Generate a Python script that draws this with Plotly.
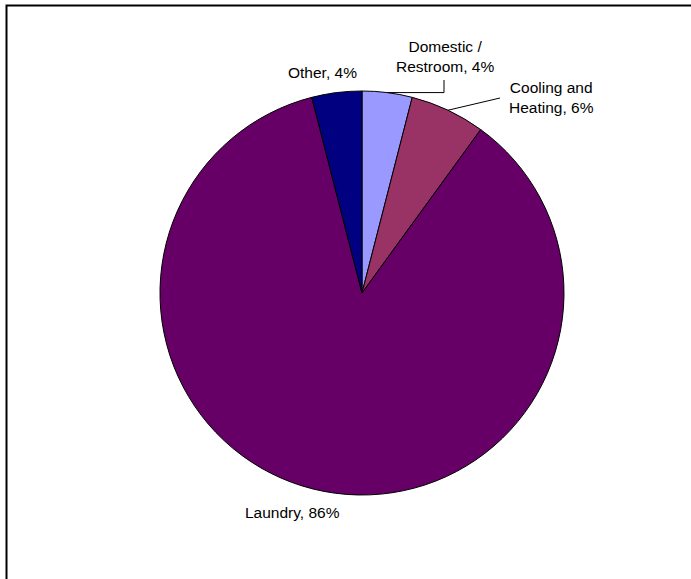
import math
import plotly.graph_objects as go

# Water use by end use
categories = ["Domestic /<br>Restroom", "Cooling and<br>Heating", "Laundry", "Other"]
shares = [4, 6, 86, 4]
colors = ["#9999FF", "#993366", "#660066", "#000080"]

W, H = 691, 579
CX, CY, R = 362, 293, 202  # pie centre and radius in pixels


def px(x):
    return x / W


def py(y):
    return 1 - y / H


fig = go.Figure(
    go.Pie(
        labels=categories,
        values=shares,
        sort=False,
        direction="clockwise",
        rotation=0,
        marker=dict(colors=colors, line=dict(color="black", width=1)),
        textinfo="none",
        hoverinfo="label+percent",
        domain=dict(x=[px(CX - R), px(CX + R)], y=[py(CY + R), py(CY - R)]),
        showlegend=False,
    )
)


def mid_point(i):
    total = sum(shares)
    start = sum(shares[:i]) / total * 360
    ang = math.radians(start + shares[i] / total * 360 / 2)
    return CX + R * math.sin(ang), CY - R * math.cos(ang)


font = dict(family="Liberation Sans, Arial, sans-serif", size=15.5, color="black")
label_pos = [(445, 56), (551, 98), (292, 512), (322, 73)]
annotations = []
for i, (lx, ly) in enumerate(label_pos):
    annotations.append(
        dict(
            x=px(lx), y=py(ly), xref="paper", yref="paper",
            text=f"{categories[i]}, {shares[i]}%",
            showarrow=False, font=font, align="center",
            xanchor="center", yanchor="middle",
        )
    )

shapes = []
# leader for Domestic / Restroom
mx, my = mid_point(0)
shapes.append(dict(type="path", xref="paper", yref="paper",
                   path=f"M {px(mx)} {py(my)} L {px(444)} {py(my)} L {px(444)} {py(80)}",
                   line=dict(color="black", width=1)))
# leader for Cooling and Heating
mx, my = mid_point(1)
shapes.append(dict(type="line", xref="paper", yref="paper",
                   x0=px(mx), y0=py(my), x1=px(500), y1=py(98),
                   line=dict(color="black", width=1)))
# chart frame
shapes.append(dict(type="rect", xref="paper", yref="paper",
                   x0=px(6.5), y0=-0.05, x1=1.05, y1=py(5.5),
                   line=dict(color="black", width=2)))

fig.update_layout(
    width=W, height=H,
    margin=dict(l=0, r=0, t=0, b=0),
    paper_bgcolor="white", plot_bgcolor="white",
    annotations=annotations, shapes=shapes,
)

fig.write_html("out.html")
